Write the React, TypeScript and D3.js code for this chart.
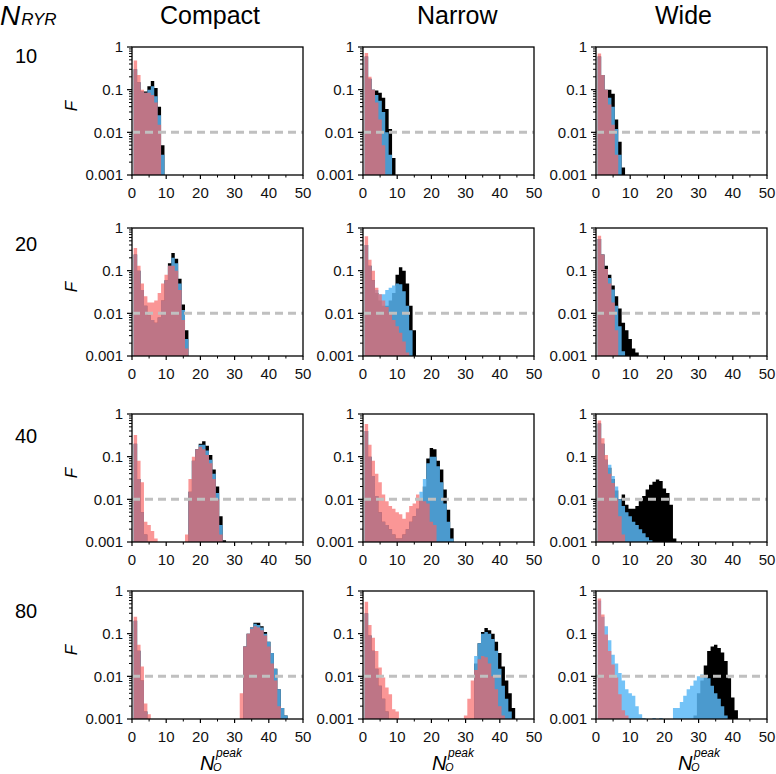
import React from "react";
import * as d3 from "d3";

// ---------- labels ----------
const geometries = ["Compact", "Narrow", "Wide"];
const nRyrLabels = ["10", "20", "40", "80"];
const xTickValues = [0, 10, 20, 30, 40, 50];
const xMinorTickValues = [5, 15, 25, 35, 45];
const yTickValues = [0.001, 0.01, 0.1, 1];
const yTickLabels = ["0.001", "0.01", "0.1", "1"];
const thresholdValue = 0.01;

// ---------- data: index i  ->  N_O^peak = i + 1 ----------
// N_RYR = 10
const compact10Black = [0.3, 0.15, 0.09, 0.09, 0.12, 0.16, 0.11, 0.04, 0.005];
const compact10Blue = [0.3, 0.15, 0.09, 0.085, 0.1, 0.12, 0.07, 0.025, 0.003];
const compact10Pink = [0.48, 0.22, 0.1, 0.085, 0.085, 0.075, 0.05, 0.015];
const narrow10Black = [0.6, 0.18, 0.1, 0.095, 0.085, 0.065, 0.035, 0.012, 0.0025];
const narrow10Blue = [0.6, 0.18, 0.1, 0.075, 0.055, 0.03, 0.01, 0.003];
const narrow10Pink = [0.72, 0.2, 0.1, 0.05, 0.02, 0.005];
const wide10Black = [0.6, 0.22, 0.1, 0.1, 0.08, 0.02, 0.006, 0.0015];
const wide10Blue = [0.6, 0.22, 0.1, 0.065, 0.04, 0.012, 0.003];
const wide10Pink = [0.7, 0.22, 0.1, 0.045, 0.015, 0.003];

// N_RYR = 20
const compact20Black = [0.24, 0.1, 0.035, 0.015, 0.009, 0.007, 0.006, 0.008, 0.02, 0.06, 0.15, 0.26, 0.19, 0.065, 0.016, 0.004];
const compact20Blue = [0.24, 0.1, 0.035, 0.015, 0.009, 0.007, 0.006, 0.008, 0.02, 0.06, 0.13, 0.2, 0.15, 0.05, 0.012, 0.0025];
const compact20Pink = [0.34, 0.13, 0.05, 0.025, 0.018, 0.018, 0.02, 0.03, 0.05, 0.08, 0.13, 0.13, 0.1, 0.035, 0.007, 0.0015];
const narrow20Black = [0.4, 0.13, 0.06, 0.03, 0.02, 0.015, 0.015, 0.02, 0.03, 0.08, 0.12, 0.1, 0.05, 0.015, 0.004];
const narrow20Blue = [0.4, 0.13, 0.06, 0.035, 0.028, 0.028, 0.035, 0.04, 0.045, 0.05, 0.048, 0.033, 0.015, 0.004];
const narrow20Pink = [0.64, 0.18, 0.1, 0.04, 0.028, 0.02, 0.014, 0.01, 0.007, 0.005, 0.0035, 0.0022, 0.0012];
const wide20Black = [0.55, 0.24, 0.13, 0.08, 0.045, 0.025, 0.013, 0.006, 0.004, 0.0025, 0.0015, 0.0012];
const wide20Blue = [0.55, 0.24, 0.11, 0.067, 0.036, 0.015, 0.005, 0.0013];
const wide20Pink = [0.66, 0.24, 0.11, 0.05, 0.018, 0.004];

// N_RYR = 40
const compact40Black = [0.2, 0.03, 0.005, 0.0015, 0, 0, 0, 0, 0, 0, 0, 0, 0, 0, 0, 0, 0.015, 0.08, 0.15, 0.2, 0.23, 0.18, 0.11, 0.05, 0.02, 0.004, 0.0011];
const compact40Blue = [0.2, 0.03, 0.005, 0.0015, 0, 0, 0, 0, 0, 0, 0, 0, 0, 0, 0, 0, 0.015, 0.08, 0.15, 0.19, 0.19, 0.14, 0.085, 0.04, 0.014, 0.0025];
const compact40Pink = [0.32, 0.08, 0.025, 0.003, 0.0025, 0.0018, 0.0012, 0, 0, 0, 0, 0, 0, 0, 0, 0.0015, 0.03, 0.1, 0.15, 0.17, 0.15, 0.11, 0.07, 0.03, 0.01, 0.0015];
const narrow40Black = [0.4, 0.1, 0.035, 0.012, 0.005, 0.003, 0.0025, 0.002, 0.0015, 0.0012, 0.0012, 0.0015, 0.002, 0.003, 0.004, 0.006, 0.01, 0.02, 0.09, 0.16, 0.15, 0.08, 0.05, 0.017, 0.0057, 0.0021];
const narrow40Blue = [0.4, 0.1, 0.035, 0.012, 0.005, 0.003, 0.0025, 0.002, 0.0015, 0.0012, 0.0012, 0.0015, 0.002, 0.003, 0.004, 0.006, 0.015, 0.03, 0.07, 0.1, 0.1, 0.06, 0.025, 0.008, 0.003, 0.0012];
const narrow40Pink = [0.58, 0.19, 0.08, 0.04, 0.025, 0.013, 0.009, 0.007, 0.006, 0.005, 0.0045, 0.0035, 0.005, 0.007, 0.008, 0.013, 0.01, 0.009, 0.008, 0.003, 0.0025];
const wide40Black = [0.6, 0.2, 0.085, 0.055, 0.03, 0.016, 0.01, 0.013, 0.0075, 0.006, 0.006, 0.007, 0.009, 0.012, 0.017, 0.022, 0.026, 0.029, 0.027, 0.018, 0.014, 0.0075, 0.0012];
const wide40Blue = [0.6, 0.2, 0.085, 0.065, 0.035, 0.02, 0.01, 0.007, 0.005, 0.004, 0.003, 0.0025, 0.002, 0.0016, 0.0013, 0.0011];
const wide40Pink = [0.7, 0.27, 0.11, 0.04, 0.024, 0.01, 0.004, 0.0015];

// N_RYR = 80
const compact80Black = [0.2, 0.04, 0.008, 0.0015, 0, 0, 0, 0, 0, 0, 0, 0, 0, 0, 0, 0, 0, 0, 0, 0, 0, 0, 0, 0, 0, 0, 0, 0, 0, 0, 0, 0, 0.05, 0.1, 0.14, 0.18, 0.18, 0.15, 0.11, 0.065, 0.035, 0.015, 0.005, 0.0018, 0.0012];
const compact80Blue = [0.2, 0.04, 0.008, 0.0015, 0, 0, 0, 0, 0, 0, 0, 0, 0, 0, 0, 0, 0, 0, 0, 0, 0, 0, 0, 0, 0, 0, 0, 0, 0, 0, 0, 0, 0.05, 0.1, 0.14, 0.17, 0.16, 0.14, 0.1, 0.065, 0.035, 0.015, 0.005, 0.0018, 0.0012];
const compact80Pink = [0.25, 0.055, 0.017, 0.0023, 0.0013, 0, 0, 0, 0, 0, 0, 0, 0, 0, 0, 0, 0, 0, 0, 0, 0, 0, 0, 0, 0, 0, 0, 0, 0, 0, 0, 0.004, 0.05, 0.1, 0.13, 0.15, 0.14, 0.12, 0.09, 0.05, 0.02, 0.008, 0.002];
const narrow80Black = [0.3, 0.09, 0.04, 0.015, 0.006, 0.003, 0.0015, 0, 0, 0, 0, 0, 0, 0, 0, 0, 0, 0, 0, 0, 0, 0, 0, 0, 0, 0, 0, 0, 0, 0, 0, 0, 0.02, 0.06, 0.11, 0.135, 0.12, 0.1, 0.065, 0.035, 0.017, 0.008, 0.004, 0.0018];
const narrow80Blue = [0.3, 0.09, 0.04, 0.015, 0.006, 0.003, 0.0015, 0, 0, 0, 0, 0, 0, 0, 0, 0, 0, 0, 0, 0, 0, 0, 0, 0, 0, 0, 0, 0, 0, 0, 0, 0, 0.03, 0.06, 0.1, 0.11, 0.1, 0.075, 0.04, 0.015, 0.006, 0.003, 0.0015];
const narrow80Pink = [0.56, 0.16, 0.08, 0.039, 0.016, 0.0094, 0.0055, 0.0038, 0.0017, 0.0015, 0, 0, 0, 0, 0, 0, 0, 0, 0, 0, 0, 0, 0, 0, 0, 0, 0, 0, 0, 0.0012, 0.003, 0.008, 0.014, 0.025, 0.03, 0.028, 0.02, 0.01, 0.005, 0.002, 0.0012];
const wide80Black = [0, 0, 0, 0, 0, 0, 0, 0, 0, 0, 0, 0, 0, 0, 0, 0, 0, 0, 0, 0, 0, 0, 0, 0, 0, 0, 0, 0, 0.0012, 0.004, 0.008, 0.018, 0.039, 0.05, 0.055, 0.046, 0.036, 0.023, 0.009, 0.0032, 0.0016];
const wide80Blue = [0.6, 0.25, 0.15, 0.07, 0.032, 0.02, 0.012, 0.008, 0.005, 0.004, 0.0035, 0.002, 0.0013, 0.00105, 0, 0, 0.00105, 0, 0.00105, 0, 0, 0, 0.0018, 0.0018, 0.0025, 0.0035, 0.005, 0.006, 0.008, 0.01, 0.011, 0.01, 0.009, 0.006, 0.004, 0.003, 0.002, 0.0012];
const wide80Pink = [0.67, 0.28, 0.095, 0.039, 0.019, 0.0094, 0.0038, 0.0016, 0.0012];

const panelSeries = [
  [
    [compact10Black, compact10Blue, compact10Pink],
    [narrow10Black, narrow10Blue, narrow10Pink],
    [wide10Black, wide10Blue, wide10Pink],
  ],
  [
    [compact20Black, compact20Blue, compact20Pink],
    [narrow20Black, narrow20Blue, narrow20Pink],
    [wide20Black, wide20Blue, wide20Pink],
  ],
  [
    [compact40Black, compact40Blue, compact40Pink],
    [narrow40Black, narrow40Blue, narrow40Pink],
    [wide40Black, wide40Blue, wide40Pink],
  ],
  [
    [compact80Black, compact80Blue, compact80Pink],
    [narrow80Black, narrow80Blue, narrow80Pink],
    [wide80Black, wide80Blue, wide80Pink],
  ],
];

// ---------- layout / style ----------
const W = 776;
const H = 774;
const colLeft = [132, 363, 596];
const rowTop = [47, 228, 414, 591];
const rowLabelY = [63, 251, 443, 618];
const PW = 171;
const PH = 128;
const titleX = [160, 417, 655];
const xLabelX = [200, 432, 678];
const seriesStyle = [
  { fill: "#000000", opacity: 1 },
  { fill: "#59b7f6", opacity: 0.84 },
  { fill: "#f86262", opacity: 0.67 },
];
const FONT = "'Liberation Sans', Arial, Helvetica, sans-serif";

function stepPath(values: number[], x: any, y: any): string {
  const base = y(0.001);
  let d = "";
  let open = false;
  values.forEach((v, i) => {
    const k = i + 1;
    const x0 = x(k - 0.5);
    const x1 = x(k + 0.5);
    if (v > 0.001) {
      const yy = y(Math.min(v, 1));
      if (!open) {
        d += `M${x0},${base}`;
        open = true;
      }
      d += `L${x0},${yy}L${x1},${yy}`;
    } else if (open) {
      d += `L${x0},${base}Z`;
      open = false;
    }
  });
  if (open) d += `L${x(values.length + 0.5)},${base}Z`;
  return d;
}

function Panel({ left, top, series, id }: { left: number; top: number; series: number[][]; id: string }) {
  const x = d3.scaleLinear().domain([0, 50]).range([0, PW]);
  const y = d3.scaleLog().domain([0.001, 1]).range([PH, 0]);
  const minorY: number[] = [];
  [0.001, 0.01, 0.1].forEach((dec) => {
    for (let m = 2; m <= 9; m++) minorY.push(dec * m);
  });
  return (
    <g transform={`translate(${left},${top})`}>
      <defs>
        <clipPath id={id}>
          <rect x={0} y={0} width={PW} height={PH} />
        </clipPath>
      </defs>
      <g clipPath={`url(#${id})`}>
        {series.map((vals, si) => (
          <path
            key={si}
            d={stepPath(vals, x, y)}
            fill={seriesStyle[si].fill}
            fillOpacity={seriesStyle[si].opacity}
            stroke="none"
          />
        ))}
      </g>
      <line
        x1={0}
        x2={PW}
        y1={y(thresholdValue)}
        y2={y(thresholdValue)}
        stroke="#c0c0c0"
        strokeWidth={3}
        strokeDasharray="8 5"
      />
      <rect x={0} y={0} width={PW} height={PH} fill="none" stroke="#000" strokeWidth={1.3} />
      {yTickValues.map((v, i) => (
        <g key={"yt" + i}>
          <line x1={-5} x2={0} y1={y(v)} y2={y(v)} stroke="#000" strokeWidth={1.2} />
          <text
            x={-9}
            y={y(v)}
            dy="0.36em"
            textAnchor="end"
            fontSize={15}
            fontFamily={FONT}
            fill="#111"
          >
            {yTickLabels[i]}
          </text>
        </g>
      ))}
      {minorY.map((v, i) => (
        <line key={"ym" + i} x1={-3} x2={0} y1={y(v)} y2={y(v)} stroke="#000" strokeWidth={1} />
      ))}
      {xTickValues.map((v, i) => (
        <g key={"xt" + i}>
          <line x1={x(v)} x2={x(v)} y1={PH} y2={PH + 4} stroke="#000" strokeWidth={1.2} />
          <text
            x={x(v)}
            y={PH + 23}
            textAnchor="middle"
            fontSize={15}
            fontFamily={FONT}
            fill="#111"
          >
            {v}
          </text>
        </g>
      ))}
      {xMinorTickValues.map((v, i) => (
        <line key={"xm" + i} x1={x(v)} x2={x(v)} y1={PH} y2={PH + 2.5} stroke="#000" strokeWidth={1} />
      ))}
    </g>
  );
}

export default function App() {
  return (
    <svg
      width={W}
      height={H}
      style={{ position: "absolute", left: 0, top: 0, background: "#fff" }}
      xmlns="http://www.w3.org/2000/svg"
    >
      <rect x={0} y={0} width={W} height={H} fill="#fff" />
      <text x={0} y={25} fontFamily={FONT} fontStyle="italic" fill="#000">
        <tspan fontSize={28}>N</tspan>
        <tspan fontSize={17} dx={1}>RYR</tspan>
      </text>
      {geometries.map((g, c) => (
        <text key={g} x={titleX[c]} y={24} fontSize={25} fontFamily={FONT} fill="#000">
          {g}
        </text>
      ))}
      {nRyrLabels.map((l, r) => (
        <text key={l} x={26} y={rowLabelY[r]} fontSize={20} fontFamily={FONT} textAnchor="middle" fill="#000">
          {l}
        </text>
      ))}
      {rowTop.map((top, r) => (
        <text
          key={"F" + r}
          transform={`translate(77,${top + 59}) rotate(-90)`}
          textAnchor="middle"
          fontSize={17}
          fontStyle="italic"
          fontFamily={FONT}
          fill="#000"
        >
          F
        </text>
      ))}
      {panelSeries.map((row, r) =>
        row.map((series, c) => (
          <Panel key={`p${r}-${c}`} id={`clip${r}-${c}`} left={colLeft[c]} top={rowTop[r]} series={series} />
        ))
      )}
      {xLabelX.map((lx, c) => (
        <g key={"xl" + c} fontFamily={FONT} fontStyle="italic" fill="#000">
          <text x={lx} y={770} fontSize={20}>N</text>
          <text x={lx + 13} y={771} fontSize={11}>O</text>
          <text x={lx + 16} y={757} fontSize={12}>peak</text>
        </g>
      ))}
    </svg>
  );
}
